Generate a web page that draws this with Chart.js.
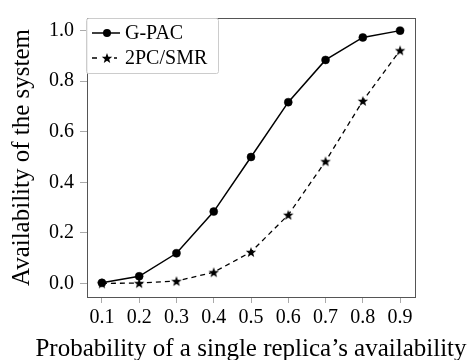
<!DOCTYPE html>
<html><head><meta charset="utf-8">
<script src="https://cdn.jsdelivr.net/npm/chart.js@4.4.1/dist/chart.umd.min.js"></script>
<style>html,body{margin:0;padding:0;background:#fff}#wrap{width:472px;height:360px}</style>
</head><body><div id="wrap"><canvas id="c" width="472" height="360"></canvas></div>
<script>
const xValues = [0.1,0.2,0.3,0.4,0.5,0.6,0.7,0.8,0.9];
const gpac = [0.002,0.028,0.119,0.284,0.5,0.717,0.884,0.973,1.0];
const smr = [0.000,0.001,0.009,0.044,0.124,0.271,0.483,0.722,0.922];
const xTicks = [0.1,0.2,0.3,0.4,0.5,0.6,0.7,0.8,0.9];
const yTicks = [0.0,0.2,0.4,0.6,0.8,1.0];
const seriesNames = ['G-PAC','2PC/SMR'];
const xTitle = 'Probability of a single replica\u2019s availability';
const yTitle = 'Availability of the system';

const FONT = "'Liberation Serif', serif";

function starCanvas(size){
  const c = document.createElement('canvas');
  c.width = size; c.height = size;
  const g = c.getContext('2d');
  const cx = size/2, cy = size/2+0.5, R = size/2-0.5, r = R*0.42;
  g.beginPath();
  for(let i=0;i<10;i++){
    const a = -Math.PI/2 + i*Math.PI/5;
    const rr = i%2===0?R:r;
    g.lineTo(cx+rr*Math.cos(a), cy+rr*Math.sin(a));
  }
  g.closePath();
  g.fillStyle='#000'; g.fill();
  return c;
}
const star = starCanvas(12);

const boxPlugin = {
  id:'boxlegend',
  afterDraw(chart){
    const {ctx, chartArea:a} = chart;
    ctx.save();
    ctx.strokeStyle='#555'; ctx.lineWidth=1;
    ctx.strokeRect(Math.round(a.left)+0.5, Math.round(a.top)+0.5, Math.round(a.right-a.left), Math.round(a.bottom-a.top));
    // x-axis title (drawn without width compression)
    ctx.font = "25px " + FONT;
    ctx.fillStyle = '#000';
    ctx.textAlign = 'center';
    ctx.textBaseline = 'alphabetic';
    ctx.fillText(xTitle, (a.left + a.right)/2, 356);
    ctx.textAlign = 'left';
    // legend
    const lx = a.left-1, ly = a.top, lw = 132, lh = 55;
    ctx.fillStyle='rgba(255,255,255,0.9)';
    ctx.strokeStyle='#ccc';
    ctx.beginPath();
    if (ctx.roundRect) ctx.roundRect(lx+0.5, ly+0.5, lw, lh, 2); else ctx.rect(lx+0.5,ly+0.5,lw,lh);
    ctx.fill(); ctx.stroke();
    ctx.font = "20px " + FONT;
    ctx.textBaseline='middle'; ctx.fillStyle='#000';
    const rows = [a.top+15, a.top+40];
    chart.data.datasets.forEach((ds,i)=>{
      const y = rows[i];
      ctx.strokeStyle='#000'; ctx.lineWidth=1.5;
      ctx.setLineDash(i===1?[5,5]:[]);
      ctx.beginPath(); ctx.moveTo(a.left+5,y); ctx.lineTo(a.left+33,y); ctx.stroke();
      ctx.setLineDash([]);
      if(i===0){ ctx.beginPath(); ctx.arc(a.left+20,y,4,0,Math.PI*2); ctx.fillStyle='#000'; ctx.fill(); }
      else { ctx.fillStyle='#fff'; ctx.fillRect(a.left+13, y-3, 14, 6); ctx.drawImage(star, a.left+20-6, y-6); }
      ctx.fillStyle='#000';
      ctx.fillText(ds.label, a.left+38, y+1);
    });
    ctx.restore();
  }
};

new Chart(document.getElementById('c'), {
  type:'line',
  data:{
    datasets:[
      {label:seriesNames[0], data:xValues.map((x,i)=>({x, y:gpac[i]})), borderColor:'#000', backgroundColor:'#000', borderWidth:1.5, pointRadius:4, pointBorderWidth:0.5, pointHoverRadius:4, pointStyle:'circle', tension:0},
      {label:seriesNames[1], data:xValues.map((x,i)=>({x, y:smr[i]})), borderColor:'#000', backgroundColor:'#000', borderWidth:1.3, borderDash:[5,4], pointStyle:star, pointRadius:6, tension:0}
    ]
  },
  options:{
    responsive:false, animation:false,
    layout:{padding:{top:12, right:57, left:0, bottom:0}},
    plugins:{legend:{display:false}, tooltip:{enabled:false}},
    scales:{
      x:{type:'linear', min:0.06, max:0.94,
        afterBuildTicks(s){ s.ticks = xTicks.map(v=>({value:v})); },
        afterFit(s){ s.height = 63; },
        grid:{drawOnChartArea:false, tickLength:6, tickColor:'#aaa'},
        border:{display:false},
        ticks:{color:'#000', font:{family:FONT, size:20}, padding:3, maxRotation:0, autoSkip:false, callback:v=>v.toFixed(1)},
        title:{display:false}
      },
      y:{type:'linear', min:-0.054, max:1.05,
        afterBuildTicks(s){ s.ticks = yTicks.map(v=>({value:v})); },
        afterFit(s){ s.width = 87; },
        grid:{drawOnChartArea:false, tickLength:7, tickColor:'#aaa'},
        border:{display:false},
        ticks:{color:'#000', font:{family:FONT, size:20}, padding:6, autoSkip:false, callback:v=>v.toFixed(1)},
        title:{display:true, text:yTitle, color:'#000', font:{family:FONT, size:25}, padding:{top:7,bottom:0}}
      }
    }
  },
  plugins:[boxPlugin]
});
</script></body></html>
